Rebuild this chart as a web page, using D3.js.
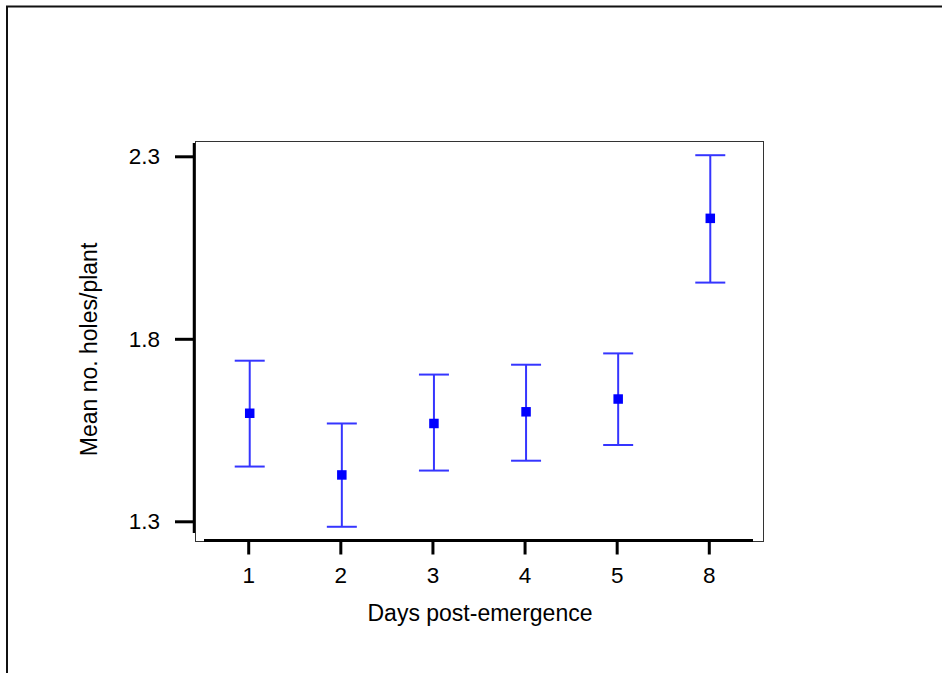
<!DOCTYPE html>
<html>
<head>
<meta charset="utf-8">
<script src="https://cdn.jsdelivr.net/npm/d3@7"></script>
<style>
html,body{margin:0;padding:0;background:#fff;}
svg{display:block;}
text{font-family:Arial,"Liberation Sans",sans-serif;fill:#000;}
</style>
</head>
<body>
<svg id="chart" width="942" height="673"></svg>
<script>
// ---- data ----
const categories = ["1", "2", "3", "4", "5", "8"];
const means      = [1.596, 1.427, 1.568, 1.600, 1.635, 2.130];
const upper      = [1.740, 1.568, 1.702, 1.729, 1.760, 2.303];
const lower      = [1.450, 1.285, 1.439, 1.466, 1.509, 1.954];
const yTicks     = [1.3, 1.8, 2.3];
const xTitle = "Days post-emergence";
const yTitle = "Mean no. holes/plant";

// ---- layout ----
const svg = d3.select("#chart");
const frame = {left: 195, top: 141, right: 763, bottom: 541};
const xAxisSpan = [204, 753];
const yAxisSpan = [143, 533];

const x = d3.scalePoint().domain(categories).range(xAxisSpan).padding(0.48);
const y = d3.scaleLinear().domain([1.3, 2.3]).range([521.3, 156.3]);

// outer border
svg.append("rect").attr("x", 7).attr("y", 6.5).attr("width", 1200).attr("height", 1200)
  .attr("fill", "none").attr("stroke", "#111").attr("stroke-width", 2);

// plot frame (thin)
svg.append("rect")
  .attr("x", frame.left + 0.5).attr("y", frame.top + 0.5)
  .attr("width", frame.right - frame.left).attr("height", frame.bottom - frame.top)
  .attr("fill", "none").attr("stroke", "#333").attr("stroke-width", 1);

// y axis
const yAxis = d3.axisLeft(y).tickValues(yTicks).tickFormat(d3.format(".1f"))
  .tickSize(19).tickPadding(15);
const gy = svg.append("g").attr("transform", `translate(${frame.left - 1},0)`).call(yAxis);
gy.select(".domain").remove();
gy.selectAll(".tick line").attr("stroke", "#000").attr("stroke-width", 3);
gy.selectAll(".tick text").attr("font-size", 22.5).attr("fill", "#000");
gy.append("line").attr("x1", 0).attr("x2", 0).attr("y1", yAxisSpan[0]).attr("y2", yAxisSpan[1])
  .attr("stroke", "#000").attr("stroke-width", 2.5);

// x axis
const xAxis = d3.axisBottom(x).tickSize(14).tickPadding(13);
const gx = svg.append("g").attr("transform", `translate(0,${frame.bottom - 0.5})`).call(xAxis);
gx.select(".domain").remove();
gx.selectAll(".tick line").attr("stroke", "#000").attr("stroke-width", 3);
gx.selectAll(".tick text").attr("font-size", 22.5).attr("fill", "#000");
gx.append("line").attr("x1", xAxisSpan[0]).attr("x2", xAxisSpan[1]).attr("y1", 0).attr("y2", 0)
  .attr("stroke", "#000").attr("stroke-width", 3);

// error bars
const barColor = "#3535ff";
const capHalf = 15;
const data = categories.map((c, i) => ({c, m: means[i], hi: upper[i], lo: lower[i]}));
const eb = svg.append("g").attr("transform", "translate(1.5,0)");
eb.selectAll("line.v").data(data).join("line").attr("class", "v")
  .attr("x1", d => x(d.c)).attr("x2", d => x(d.c))
  .attr("y1", d => y(d.hi)).attr("y2", d => y(d.lo))
  .attr("stroke", barColor).attr("stroke-width", 2);
eb.selectAll("line.t").data(data).join("line").attr("class", "t")
  .attr("x1", d => x(d.c) - capHalf).attr("x2", d => x(d.c) + capHalf)
  .attr("y1", d => y(d.hi)).attr("y2", d => y(d.hi))
  .attr("stroke", barColor).attr("stroke-width", 2);
eb.selectAll("line.b").data(data).join("line").attr("class", "b")
  .attr("x1", d => x(d.c) - capHalf).attr("x2", d => x(d.c) + capHalf)
  .attr("y1", d => y(d.lo)).attr("y2", d => y(d.lo))
  .attr("stroke", barColor).attr("stroke-width", 2);
const ms = 9.5;
eb.selectAll("rect.m").data(data).join("rect").attr("class", "m")
  .attr("x", d => x(d.c) - ms / 2).attr("y", d => y(d.m) - ms / 2)
  .attr("width", ms).attr("height", ms).attr("fill", "#0000ff");

// titles
svg.append("text").attr("x", 480).attr("y", 621).attr("text-anchor", "middle")
  .attr("font-size", 23).text(xTitle);
svg.append("text").attr("transform", "translate(97,349.5) rotate(-90)")
  .attr("text-anchor", "middle").attr("font-size", 23).text(yTitle);
</script>
</body>
</html>
